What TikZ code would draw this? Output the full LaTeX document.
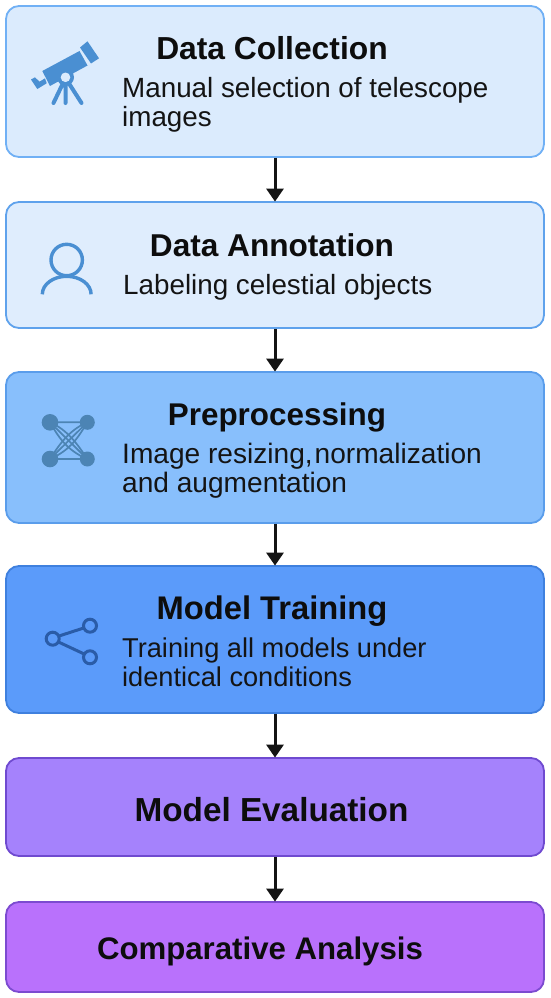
\documentclass[tikz,border=0pt]{standalone}
\usepackage{fontspec}
\setmainfont{Liberation Sans}
\usetikzlibrary{arrows.meta}
\definecolor{fa}{HTML}{DBEBFD}\definecolor{da}{HTML}{70B0F5}
\definecolor{fb}{HTML}{DFEDFD}\definecolor{db}{HTML}{5FA2EC}
\definecolor{fc}{HTML}{88BFFC}\definecolor{dc}{HTML}{5A9DEB}
\definecolor{fd}{HTML}{5B9BFA}\definecolor{dd}{HTML}{3F80DE}
\definecolor{fe}{HTML}{A582FC}\definecolor{de}{HTML}{6F4AD0}
\definecolor{ff}{HTML}{B971FC}\definecolor{df}{HTML}{7C4BD0}
\definecolor{icona}{HTML}{4A8FD2}\definecolor{iconc}{HTML}{4C84B4}\definecolor{icond}{HTML}{2A5CA8}
\tikzset{
 x=1pt,y=-1pt,
 flowbox/.style={rounded corners=13pt,line width=1.8pt,minimum width=538pt,inner sep=0pt,outer sep=0.9pt},
 titletext/.style={font=\bfseries\fontsize{#1}{34}\selectfont,text=black!95,inner sep=0pt},
 bodytext/.style={font=\fontsize{#1}{29}\selectfont,text=black!92,inner sep=0pt,align=left,anchor=north west},
 flowarrow/.style={line width=3pt,black!92,-{Triangle[length=13pt,width=17pt]},shorten >=-0.5pt},
}
\begin{document}
\begin{tikzpicture}
\useasboundingbox (0,0) rectangle (550,998);
\node[flowbox,fill=fa,draw=da,minimum height=151pt] (b1) at (275,81.5) {};
\node[flowbox,fill=fb,draw=db,minimum height=126pt] (b2) at (275,265) {};
\node[flowbox,fill=fc,draw=dc,minimum height=151pt] (b3) at (275,447.5) {};
\node[flowbox,fill=fd,draw=dd,minimum height=147pt] (b4) at (275,639.5) {};
\node[flowbox,fill=fe,draw=de,minimum height=98pt] (b5) at (275,807) {};
\node[flowbox,fill=ff,draw=df,minimum height=90pt] (b6) at (275,947) {};
\draw[flowarrow] (b1) -- (b2);
\draw[flowarrow] (b2) -- (b3);
\draw[flowarrow] (b3) -- (b4);
\draw[flowarrow] (b4) -- (b5);
\draw[flowarrow] (b5) -- (b6);
\node[titletext=31.8] (t1) at (272,48.5) {Data Collection};
\node[titletext=31.6] (t2) at (272,245) {Data Annotation};
\node[titletext=31.4] (t3) at (277,417) {Preprocessing};
\node[titletext=32.7] (t4) at (272,611) {Model Training};
\node[titletext=33.3] (t5) at (271.5,810) {Model Evaluation};
\node[titletext=31.2] (t6) at (260,951) {Comparative Analysis};
\node[bodytext=27.8] (s1) at (122,77) {Manual selection of telescope\\images};
\node[bodytext=27.8] (s2) at (123,274) {Labeling celestial objects};
\node[bodytext=28.1] (s3) at (122,443) {Image resizing,\hspace{2pt}normalization\\and augmentation};
\node[bodytext=27.2] (s4) at (122,638) {Training all models under\\identical conditions};
% telescope
\fill[icona] (42.3,71) -- (79.5,51) -- (87.5,65.5) -- (50,86) -- cycle;
\fill[icona] (80,47.5) -- (87.5,41.3) -- (99,58.3) -- (91,63.5) -- cycle;
\fill[icona] (31,79.5) -- (35,77.3) -- (39.5,81.7) -- (45,78.3) -- (46.7,83.3) -- (37.3,89) -- cycle;
\draw[icona,line width=4pt,line cap=round] (65.5,78) -- (53.5,103) (65.5,78) -- (65.5,103) (65.5,78) -- (81.5,103);
\fill[icona] (65.5,77.3) circle (8.5);
\fill[fa] (65.5,77.3) circle (4.8);
% person
\draw[icona,line width=3.4pt] (66.7,260) circle (15.7);
\draw[icona,line width=3.4pt] (42.3,294.3) arc[start angle=180,end angle=360,x radius=24.4,y radius=18];
% network
\begin{scope}[iconc]
\draw[line width=1.7pt] (50,422.3) -- (87.3,422.3) (50,459) -- (87.3,459) (50,422.3) -- (87.3,459) (87.3,422.3) -- (50,459);
\draw[line width=1.7pt] (50,422.3) .. controls (58,436) and (66,450) .. (87.3,459);
\draw[line width=1.7pt] (50,422.3) .. controls (68,430) and (78,445) .. (87.3,459);
\draw[line width=1.7pt] (87.3,422.3) .. controls (79,436) and (71,450) .. (50,459);
\draw[line width=1.7pt] (87.3,422.3) .. controls (69,430) and (59,445) .. (50,459);
\fill (50,422.3) circle (8.3) (87.3,422.3) circle (7.5) (50,459) circle (8.3) (87.3,459) circle (7.5);
\end{scope}
% share
\begin{scope}[icond,line width=3pt]
\draw (52.7,638.7) circle (6.5) (90,625.7) circle (6.5) (90,657.3) circle (6.5);
\draw (59,636) -- (83.7,628) (58.5,642) -- (84.2,654);
\end{scope}
\end{tikzpicture}
\end{document}
